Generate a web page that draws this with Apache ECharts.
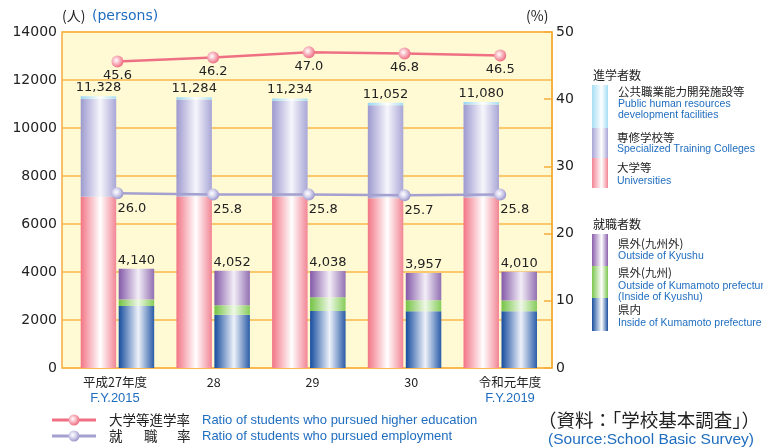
<!DOCTYPE html>
<html><head><meta charset="utf-8">
<script src="https://cdn.jsdelivr.net/npm/echarts@6/dist/echarts.min.js"></script>
<style>html,body{margin:0;padding:0;background:#fff}#c{width:763px;height:448px}</style>
</head><body><div id="c"></div>
<script>
// ---- data ----
var catJP = ['平成27年度', '28', '29', '30', '令和元年度'];
var catEN = ['F.Y.2015', '', '', '', 'F.Y.2019'];
var goTotal = [11328, 11284, 11234, 11052, 11080];
var univ = [7140, 7140, 7140, 7070, 7100];
var publicHR = [110, 100, 100, 100, 100];
var special = [4078, 4044, 3994, 3882, 3880];
var empTotal = [4140, 4052, 4038, 3957, 4010];
var inKuma = [2580, 2220, 2370, 2360, 2360];
var inKyushu = [270, 390, 575, 460, 450];
var outKyushu = [1290, 1442, 1093, 1137, 1200];
var rateHigher = [45.6, 46.2, 47.0, 46.8, 46.5];
var rateEmp = [26.0, 25.8, 25.8, 25.7, 25.8];
var leftTicks = [0, 14000, 2000];
var rightTicks = [0, 50, 10];

var chart = echarts.init(document.getElementById('c'), null, {renderer: 'canvas'});
var JP = '"Noto Sans CJK JP", sans-serif';
var NUM = '"DejaVu Sans", sans-serif';
var EN = '"Liberation Sans", sans-serif';
var BLUE = '#1f6dbf';
function grad(edge, mid, edge2) {
  return new echarts.graphic.LinearGradient(0, 0, 1, 0, [
    {offset: 0, color: edge}, {offset: 0.55, color: mid}, {offset: 1, color: edge2 || edge}]);
}
var cPink = grad('#f27585', '#ffffff', '#f28594');
var cLav = grad('#9d9acf', '#f6f6fc', '#a9a6d6');
var cLBlue = grad('#95d6f3', '#ffffff', '#a5def5');
var cPurple = grad('#8459a8', '#f3eef7', '#9270b2');
var cGreen = grad('#74c244', '#eef8e6', '#86cc5a');
var cBlue = grad('#164c9e', '#eef2fa', '#2a5ca8');

function mk(r, c1, c2) {
  return new echarts.graphic.RadialGradient(0.4, 0.4, 0.6, [{offset: 0, color: '#ffffff'}, {offset: 0.5, color: c2}, {offset: 1, color: c1}]);
}

var G = [];
function txt(x, y, t, font, fill, align) {
  G.push({type: 'text', x: x, y: y, silent: true, style: {text: t, font: font, fill: fill, textAlign: align || 'left', textVerticalAlign: 'middle'}});
}
function rect(x, y, w, h, fill) {
  G.push({type: 'rect', shape: {x: x, y: y, width: w, height: h}, silent: true, style: {fill: fill}});
}
var sw = function (c1, c2, c3) { return new echarts.graphic.LinearGradient(0, 0, 1, 0, [{offset: 0, color: c1}, {offset: 0.6, color: c2}, {offset: 1, color: c3}]); };
// axis titles
txt(62, 16, '(人)', '14px ' + JP, '#222');
txt(92, 16, '(persons)', '14px ' + NUM, BLUE);
txt(526, 16, '(%)', '14px ' + JP, '#222');
// right legend 進学者数
txt(593, 75, '進学者数', '12px ' + JP, '#222');
rect(592, 85, 16, 43, sw('#a6def5', '#ffffff', '#a6def5'));
rect(592, 128, 16, 30, sw('#a9a6d6', '#ffffff', '#a9a6d6'));
rect(592, 158, 16, 30, sw('#f28594', '#ffffff', '#f28594'));
txt(618, 92, '公共職業能力開発施設等', '11.5px ' + JP, '#222');
txt(618, 104, 'Public human resources', '10.5px ' + EN, BLUE);
txt(618, 115, 'development facilities', '10.5px ' + EN, BLUE);
txt(617, 138, '専修学校等', '11.5px ' + JP, '#222');
txt(617, 149, 'Specialized Training Colleges', '10.5px ' + EN, BLUE);
txt(617, 168, '大学等', '11.5px ' + JP, '#222');
txt(617, 181, 'Universities', '10.5px ' + EN, BLUE);
// right legend 就職者数
txt(593, 224, '就職者数', '12px ' + JP, '#222');
rect(592, 234, 16, 32, sw('#8a60ab', '#ffffff', '#8a60ab'));
rect(592, 266, 16, 32, sw('#7cc64e', '#ffffff', '#7cc64e'));
rect(592, 298, 16, 33, sw('#1a4f9f', '#ffffff', '#1a4f9f'));
txt(618, 244, '県外(九州外)', '11.5px ' + JP, '#222');
txt(618, 256, 'Outside of Kyushu', '10.5px ' + EN, BLUE);
txt(618, 273, '県外(九州)', '11.5px ' + JP, '#222');
txt(618, 286, 'Outside of Kumamoto prefecture', '10.5px ' + EN, BLUE);
txt(618, 297, '(Inside of Kyushu)', '10.5px ' + EN, BLUE);
txt(618, 310, '県内', '11.5px ' + JP, '#222');
txt(618, 323, 'Inside of Kumamoto prefecture', '10.5px ' + EN, BLUE);
// bottom legend
G.push({type: 'line', shape: {x1: 52, y1: 420, x2: 96, y2: 420}, silent: true, style: {stroke: '#ef7083', lineWidth: 3}});
G.push({type: 'circle', shape: {cx: 74, cy: 420, r: 5.5}, silent: true, style: {fill: mk(0, '#ee6f83', '#f7b5c0')}});
G.push({type: 'line', shape: {x1: 52, y1: 436, x2: 96, y2: 436}, silent: true, style: {stroke: '#a4a0d0', lineWidth: 3}});
G.push({type: 'circle', shape: {cx: 74, cy: 436, r: 5.5}, silent: true, style: {fill: mk(0, '#9c98cc', '#d4d2ec')}});
txt(109, 420, '大学等進学率', '13.5px ' + JP, '#222');
txt(109, 436, '就', '13.5px ' + JP, '#222');
txt(144, 436, '職', '13.5px ' + JP, '#222');
txt(177, 436, '率', '13.5px ' + JP, '#222');
txt(202, 420, 'Ratio of students who pursued higher education', '13px ' + EN, BLUE);
txt(202, 436, 'Ratio of students who pursued employment', '13px ' + EN, BLUE);
txt(760, 420, '（資料：「学校基本調査」）', '18.5px ' + JP, '#222', 'right');
txt(754, 440, '(Source:School Basic Survey)', '15.5px ' + EN, BLUE, 'right');

var lblTop = function (arr) {
  return {show: true, position: 'top', distance: 2, fontFamily: NUM, fontSize: 13, color: '#222',
    formatter: function (p) { return arr[p.dataIndex].toLocaleString('en-US'); }};
};

var option = {
  animation: false,
  backgroundColor: '#ffffff',
  grid: [
    {left: 62, top: 32, width: 490, height: 336, show: true, backgroundColor: '#fffad4', borderColor: '#f6ac3a', borderWidth: 1.5},
    {left: 69.6, top: 32, width: 478.5, height: 336},
    {left: 65.6, top: 32, width: 493.8, height: 336}
  ],
  xAxis: [
    {gridIndex: 0, type: 'category', data: catJP, show: false},
    {gridIndex: 1, type: 'category', data: catJP, show: false},
    {gridIndex: 2, type: 'category', data: catJP, axisLine: {show: false}, axisTick: {show: false},
      axisLabel: {margin: 6, interval: 0, lineHeight: 16,
        formatter: function (v, i) { return '{j|' + v + '}' + (catEN[i] ? '\n{e|' + catEN[i] + '}' : ''); },
        rich: {j: {fontFamily: JP, fontSize: 12.5, color: '#222', lineHeight: 16}, e: {fontFamily: EN, fontSize: 13, color: BLUE, lineHeight: 16}}}}
  ],
  yAxis: [
    {gridIndex: 0, type: 'value', min: leftTicks[0], max: leftTicks[1], interval: leftTicks[2],
      axisLine: {show: false}, axisTick: {show: false},
      axisLabel: {margin: 5, fontFamily: NUM, fontSize: 14, color: '#222', formatter: function (v) { return String(v); }},
      splitLine: {lineStyle: {color: '#f9b84a', width: 1.5}}},
    {gridIndex: 0, type: 'value', position: 'right', min: rightTicks[0], max: rightTicks[1], interval: rightTicks[2],
      axisLine: {show: true, lineStyle: {color: '#f6ac3a', width: 1.5}},
      axisTick: {show: true, inside: true, length: 8, lineStyle: {color: '#f6ac3a', width: 1.5}},
      axisLabel: {margin: 4, fontFamily: NUM, fontSize: 14, color: '#222'},
      splitLine: {show: false}},
    {gridIndex: 1, type: 'value', min: leftTicks[0], max: leftTicks[1], show: false},
    {gridIndex: 1, type: 'value', min: rightTicks[0], max: rightTicks[1], show: false},
    {gridIndex: 2, type: 'value', show: false}
  ],
  series: [
    {type: 'bar', name: '大学等', xAxisIndex: 1, yAxisIndex: 2, stack: 'go', data: univ, barWidth: 35.5, barGap: '7%', itemStyle: {color: cPink}},
    {type: 'bar', name: '専修学校等', xAxisIndex: 1, yAxisIndex: 2, stack: 'go', data: special, barWidth: 35.5, itemStyle: {color: cLav}},
    {type: 'bar', name: '公共職業能力開発施設等', xAxisIndex: 1, yAxisIndex: 2, stack: 'go', data: publicHR, barWidth: 35.5, itemStyle: {color: cLBlue}, label: lblTop(goTotal)},
    {type: 'bar', name: '県内', xAxisIndex: 1, yAxisIndex: 2, stack: 'emp', data: inKuma, barWidth: 35.5, itemStyle: {color: cBlue}},
    {type: 'bar', name: '県外(九州)', xAxisIndex: 1, yAxisIndex: 2, stack: 'emp', data: inKyushu, barWidth: 35.5, itemStyle: {color: cGreen}},
    {type: 'bar', name: '県外(九州外)', xAxisIndex: 1, yAxisIndex: 2, stack: 'emp', data: outKyushu, barWidth: 35.5, itemStyle: {color: cPurple}, label: lblTop(empTotal)},
    {type: 'line', name: '大学等進学率', xAxisIndex: 1, yAxisIndex: 3, data: rateHigher, symbol: 'circle', symbolSize: 12,
      lineStyle: {color: '#ef7083', width: 2.5}, itemStyle: {color: mk(0, '#ee6f83', '#f7b5c0')},
      label: {show: true, position: 'bottom', distance: 2, fontFamily: NUM, fontSize: 13, color: '#222', formatter: function (p) { return p.value.toFixed(1); }}},
    {type: 'line', name: '就職率', xAxisIndex: 1, yAxisIndex: 3, data: rateEmp, symbol: 'circle', symbolSize: 12,
      lineStyle: {color: '#a4a0d0', width: 2.5}, itemStyle: {color: mk(0, '#9c98cc', '#d4d2ec')},
      label: {show: true, position: 'bottom', align: 'left', distance: 3, fontFamily: NUM, fontSize: 13, color: '#222', formatter: function (p) { return p.value.toFixed(1); }}}
  ],
  graphic: G
};
chart.setOption(option);
</script>
</body></html>
